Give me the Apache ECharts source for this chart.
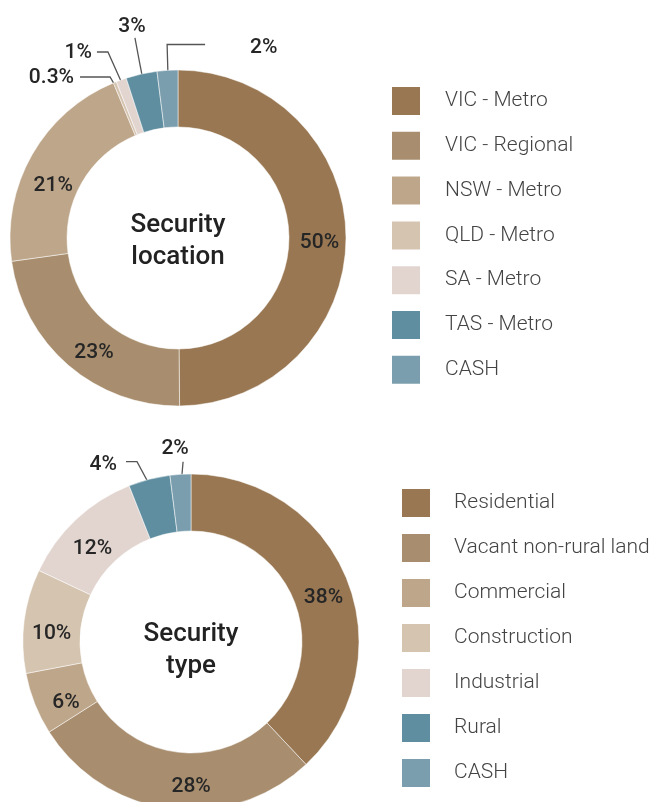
<!DOCTYPE html>
<html><head><meta charset="utf-8">
<script src="https://cdn.jsdelivr.net/npm/echarts@6/dist/echarts.min.js"></script>
<style>html,body{margin:0;padding:0;background:#fff}#c{width:654px;height:802px}</style>
</head><body><div id="c"></div>
<script>
const locationNames = ['VIC - Metro','VIC - Regional','NSW - Metro','QLD - Metro','SA - Metro','TAS - Metro','CASH'];
const locationValues = [50, 23, 21, 0.3, 1, 3, 2];
const typeNames = ['Residential','Vacant non-rural land','Commercial','Construction','Industrial','Rural','CASH'];
const typeValues = [38, 28, 6, 10, 12, 4, 2];
const palette = ['#987752','#a88e6e','#bea68a','#d4c4b0','#e2d5d0','#5f8ea0','#7b9eae'];

const topCenter = [178, 238];
const botCenter = [191, 642];

// leader-line shapes for small slices and nudges for inside labels (relative offsets, px)
const topOffsets = {
  0: {shift: [-1, 5.5]},
  1: {shift: [9, 6.5]},
  2: {shift: [-1, 18]},
  3: {pts: [[-8.6,-14.6],[-38.6,-14.6]], lab: [-6, 1], align: 'right'},
  4: {pts: [[-16.7,-37.3],[-27.7,-37.3]], lab: [-5, 0.5], align: 'right'},
  5: {pts: [[-8.7,-45.8],[-8.7,-45.8]], lab: [-3, -11], align: 'center'},
  6: {pts: [[-1,-35.8],[37,-35.8]], lab: [45, 3], align: 'left'}
};
const botOffsets = {
  0: {shift: [0, 8.5]},
  1: {shift: [18, 3.5]},
  2: {shift: [7.5, 8]},
  3: {shift: [2, 9.5]},
  4: {shift: [-1, 11]},
  5: {pts: [[-14.7,-27.3],[-25.7,-27.3]], lab: [-9, 3], align: 'right'},
  6: {pts: [[1,-11],[2,-22.5]], lab: [-8, -13.5], align: 'center'}
};

function makeLayout(center, offsets) {
  return function (params) {
    const o = offsets[params.dataIndex];
    if (!o) return {};
    if (o.shift) return {dx: o.shift[0], dy: o.shift[1]};
    if (!params.labelLinePoints) return {};
    const p0 = params.labelLinePoints[0];
    const dx = p0[0] - center[0], dy = p0[1] - center[1];
    const len = Math.hypot(dx, dy);
    const s = [p0[0] - dx / len * 10, p0[1] - dy / len * 10];
    const e1 = [s[0] + o.pts[0][0], s[1] + o.pts[0][1]];
    const e2 = [s[0] + o.pts[1][0], s[1] + o.pts[1][1]];
    return {x: e2[0] + o.lab[0], y: e2[1] + o.lab[1], align: o.align, verticalAlign: 'middle', labelLinePoints: [s, e1, e2]};
  };
}

function buildData(names, values) {
  return names.map((n, i) => {
    const small = values[i] < 5;
    return {
      name: n, value: values[i],
      itemStyle: {color: palette[i]},
      label: {position: small ? 'outside' : 'inside'},
      labelLine: {show: small}
    };
  });
}

const labelStyle = {
  show: true, fontSize: 21, fontWeight: 500, fontFamily: 'Roboto', color: '#262626',
  formatter: p => p.value + '%'
};

function pieSeries(names, values, center, offsets) {
  return {
    type: 'pie',
    center: center,
    radius: [111, 168],
    startAngle: 90,
    clockwise: true,
    avoidLabelOverlap: false,
    animation: false,
    emphasis: {disabled: true},
    itemStyle: {borderColor: '#ffffff', borderWidth: 0.5},
    label: labelStyle,
    labelLine: {show: true, length: 10, length2: 10, lineStyle: {color: '#555', width: 1.3}},
    labelLayout: makeLayout(center, offsets),
    data: buildData(names, values)
  };
}

function legendCfg(names, left, top, gap, textPad) {
  return {
    orient: 'vertical', left: left, top: top, padding: 0,
    itemWidth: 30, itemHeight: 30, itemGap: gap, icon: 'rect',
    selectedMode: false, data: names,
    textStyle: {fontSize: 21, lineHeight: 28, fontFamily: 'Roboto', fontWeight: 300, color: '#444', padding: [0, 0, 0, textPad]}
  };
}

function centerText(text, x, y) {
  return {
    type: 'text', x: x, y: y, silent: true,
    style: {text: text, align: 'center', verticalAlign: 'middle', textAlign: 'center', textVerticalAlign: 'middle',
      font: '500 26px Roboto', fill: '#222', lineHeight: 32}
  };
}

const chart = echarts.init(document.getElementById('c'), null, {renderer: 'canvas'});
chart.setOption({
  animation: false,
  backgroundColor: '#fff',
  legend: [
    legendCfg(locationNames, 390, 85, 12.8, 19),
    legendCfg(typeNames, 400, 487, 13, 18)
  ],
  graphic: [
    centerText('Security\nlocation', topCenter[0], 241),
    centerText('Security\ntype', botCenter[0], 650)
  ],
  series: [
    pieSeries(locationNames, locationValues, topCenter, topOffsets),
    pieSeries(typeNames, typeValues, botCenter, botOffsets)
  ]
});
</script></body></html>
